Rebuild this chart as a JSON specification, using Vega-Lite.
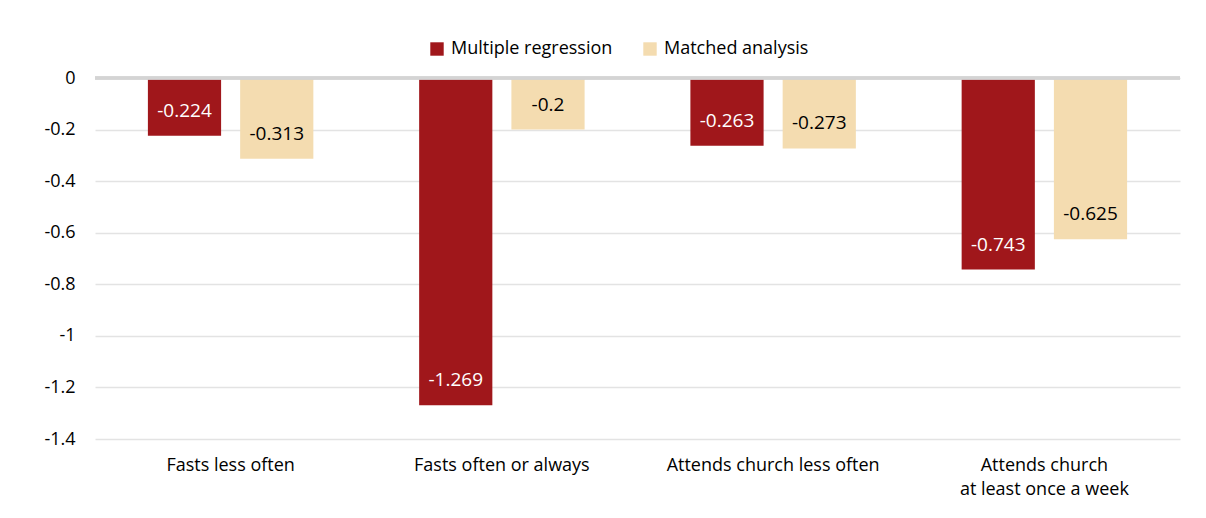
{
  "$schema": "https://vega.github.io/schema/vega-lite/v6.json",
  "width": 1085,
  "height": 361,
  "autosize": {"type": "none"},
  "padding": {"left": 95, "top": 78, "right": 26, "bottom": 79},
  "background": "white",
  "config": {
    "font": "Open Sans",
    "view": {"stroke": null},
    "axis": {"labelFont": "Open Sans", "labelColor": "#000000"},
    "locale": {
      "number": {"decimal": ".", "thousands": ",", "grouping": [3], "currency": ["$", ""], "minus": "-"}
    }
  },
  "data": {
    "values": [
      {"cat": "Fasts less often", "series": "Multiple regression", "value": -0.224},
      {"cat": "Fasts less often", "series": "Matched analysis", "value": -0.313},
      {"cat": "Fasts often or always", "series": "Multiple regression", "value": -1.269},
      {"cat": "Fasts often or always", "series": "Matched analysis", "value": -0.2},
      {"cat": "Attends church less often", "series": "Multiple regression", "value": -0.263},
      {"cat": "Attends church less often", "series": "Matched analysis", "value": -0.273},
      {"cat": "Attends church|at least once a week", "series": "Multiple regression", "value": -0.743},
      {"cat": "Attends church|at least once a week", "series": "Matched analysis", "value": -0.625}
    ]
  },
  "encoding": {
    "x": {
      "field": "cat",
      "type": "nominal",
      "sort": null,
      "title": null,
      "scale": {"paddingInner": 0.39, "paddingOuter": 0.195},
      "axis": {
        "domain": false,
        "ticks": false,
        "labelAngle": 0,
        "labelFontSize": 18,
        "labelPadding": 17,
        "labelLineHeight": 24,
        "labelLimit": 400,
        "labelExpr": "split(datum.label, '|')"
      }
    },
    "xOffset": {
      "field": "series",
      "type": "nominal",
      "sort": ["Multiple regression", "Matched analysis"],
      "scale": {"paddingInner": 0.2065, "paddingOuter": 0}
    },
    "y": {
      "field": "value",
      "type": "quantitative",
      "title": null,
      "scale": {"domain": [-1.4, 0], "nice": false, "zero": false},
      "axis": {
        "values": [0, -0.2, -0.4, -0.6, -0.8, -1, -1.2, -1.4],
        "format": "~g",
        "domain": false,
        "ticks": false,
        "labelFontSize": 18,
        "labelPadding": 20,
        "gridColor": "#e3e3e3",
        "gridWidth": 1.5
      }
    }
  },
  "layer": [
    {
      "mark": {"type": "bar"},
      "encoding": {
        "y2": {"datum": 0},
        "color": {
          "field": "series",
          "type": "nominal",
          "sort": ["Multiple regression", "Matched analysis"],
          "scale": {"domain": ["Multiple regression", "Matched analysis"], "range": ["#A0171B", "#F4DCB0"]},
          "legend": {
            "title": null,
            "orient": "none",
            "direction": "horizontal",
            "legendX": 333,
            "legendY": -38,
            "symbolType": "square",
            "symbolSize": 180,
            "symbolStrokeWidth": 0,
            "symbolOpacity": 1,
            "labelFontSize": 18,
            "labelFont": "Open Sans",
            "labelColor": "#000000",
            "labelLimit": 400,
            "labelOffset": 5,
            "columnPadding": 28
          }
        }
      }
    },
    {
      "mark": {"type": "rule", "color": "#d4d4d4", "strokeWidth": 2.5},
      "encoding": {"y": {"datum": 0}, "x": null, "xOffset": null}
    },
    {
      "mark": {"type": "text", "fontSize": 19, "baseline": "middle", "dy": -25},
      "encoding": {
        "text": {"field": "value", "type": "quantitative", "format": "~g"},
        "color": {
          "condition": {"test": "datum.series == 'Multiple regression'", "value": "#ffffff"},
          "value": "#000000"
        }
      }
    }
  ]
}
